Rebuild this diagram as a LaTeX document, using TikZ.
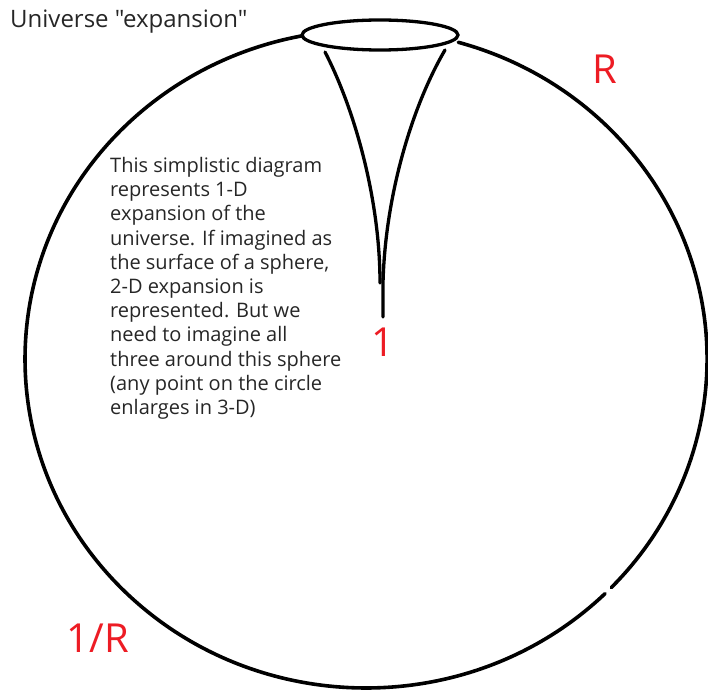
\documentclass[tikz,border=0pt]{standalone}
\usepackage{fontspec}
\setmainfont{Open Sans}
\newfontfamily\plainsans{Open Sans}
\usepackage{tikz}
\usetikzlibrary{positioning}
\usepackage{xcolor}
\definecolor{paintred}{RGB}{237,28,36}
\definecolor{inkgray}{RGB}{38,38,38}

\begin{document}
\begin{tikzpicture}[x=1pt, y=-1pt, line cap=round,
    sketch/.style={black, line width=3.6pt},
    funnel/.style={black, line width=3.3pt},
    redlabel/.style={paintred, font=\fontsize{40}{40}\selectfont, inner sep=0pt}]
\useasboundingbox (0,0) rectangle (708,690);
\begin{scope}
    % outer circle, open where the ellipse sits and at lower right
    \draw[sketch] (366,359) ++(285.7:341 and 329) arc[start angle=285.7, end angle=404, x radius=341, y radius=329];
    \draw[sketch] (366,359) ++(405.5:341 and 329) arc[start angle=405.5, end angle=619.2, x radius=341, y radius=329];
    % mouth of the funnel
    \draw[funnel] (380,35) ellipse[x radius=78, y radius=15];
    \draw[funnel] (325,52) .. controls (355,110) and (380,200) .. (380,283);
    \draw[funnel] (445,50) .. controls (410,110) and (385,200) .. (383,283) -- (383,317);
    \node[inkgray, font=\plainsans\fontsize{24}{24}\selectfont, anchor=base west, inner sep=0pt] (title) at (10,28) {Universe "expansion"};
    \node[inkgray, font=\fontsize{20}{24.2}\selectfont, anchor=north west, inner sep=0pt, align=left] (note) at (110,157)
        {This simplistic diagram\\represents 1-D\\expansion of the\\universe. If imagined as\\the surface of a sphere,\\2-D expansion is\\represented. But we\\need to imagine all\\three around this sphere\\(any point on the circle\\enlarges in 3-D)};
    \node[redlabel] (one) at (383,342) {1};
    \node[redlabel] (big) at (605,69) {R};
    \node[redlabel] (small) at (98,638) {1/R};
\end{scope}
\end{tikzpicture}
\end{document}
